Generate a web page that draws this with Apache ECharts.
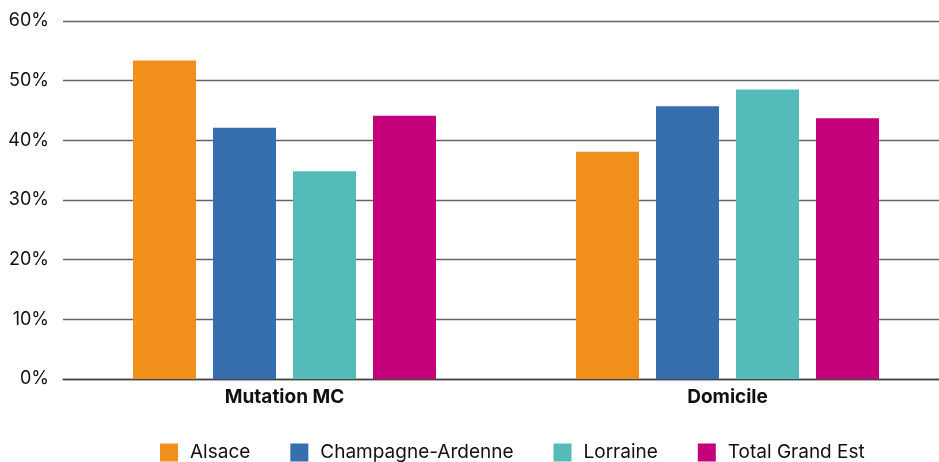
<!DOCTYPE html>
<html><head><meta charset="utf-8">
<script src="https://cdn.jsdelivr.net/npm/echarts@6/dist/echarts.min.js"></script>
<style>html,body{margin:0;padding:0;background:#fff}#c{width:939px;height:462px}</style>
</head><body><div id="c"></div>
<script>
const categories = ['Mutation MC', 'Domicile'];
const seriesNames = ['Alsace', 'Champagne-Ardenne', 'Lorraine', 'Total Grand Est'];
const alsace = [53.4, 38.1];
const champagne = [42.1, 45.7];
const lorraine = [34.8, 48.5];
const totalGE = [44.1, 43.7];
const yTicks = [0, 10, 20, 30, 40, 50, 60];
const colors = ['#F0901A', '#376EAE', '#55BBB9', '#C4017A'];
const values = [alsace, champagne, lorraine, totalGE];

const chart = echarts.init(document.getElementById('c'));
chart.setOption({
  animation: false,
  textStyle: { fontFamily: 'Inter' },
  grid: { left: 63, top: 21, width: 886, height: 358, containLabel: false, outerBoundsMode: 'none' },
  legend: {
    top: 443, left: 160, padding: 0,
    itemWidth: 18, itemHeight: 18, itemGap: 40,
    icon: 'rect',
    textStyle: { fontSize: 19, color: '#111', fontFamily: 'Inter', padding: [0, 0, 0, 7] },
    data: seriesNames
  },
  xAxis: {
    type: 'category', data: categories,
    axisLine: { lineStyle: { color: '#444', width: 1.3 } },
    axisTick: { show: false },
    axisLabel: { fontSize: 19, fontWeight: 'bold', color: '#111', margin: 9 }
  },
  yAxis: {
    type: 'value', min: yTicks[0], max: yTicks[yTicks.length - 1], interval: 10,
    axisLine: { show: false }, axisTick: { show: false },
    splitLine: { lineStyle: { color: '#666', width: 1.3 } },
    axisLabel: { fontSize: 18, color: '#111', margin: 14, formatter: v => v + '%' }
  },
  series: seriesNames.map((n, i) => ({
    name: n, type: 'bar', data: values[i],
    barWidth: 63, barGap: '27%',
    itemStyle: { color: colors[i] }
  }))
});
</script></body></html>
